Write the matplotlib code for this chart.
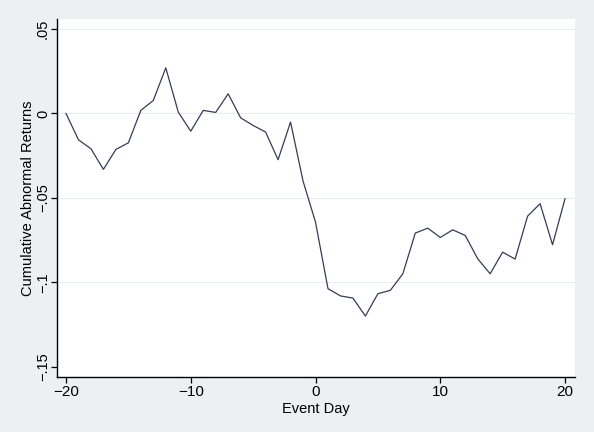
import numpy as np
import matplotlib.pyplot as plt

plt.rcParams['font.family'] = ['Liberation Sans', 'DejaVu Sans']

event_day = list(range(-20, 21))
car = [0.0, -0.0156, -0.0209, -0.0331, -0.0213, -0.0174, 0.0018, 0.0077,
       0.0270, 0.0008, -0.0105, 0.0018, 0.0006, 0.0116, -0.0026, -0.0071,
       -0.0110, -0.0274, -0.0051, -0.0400, -0.0643, -0.1037, -0.1080,
       -0.1093, -0.1199, -0.1067, -0.1047, -0.0949, -0.0708, -0.0679,
       -0.0734, -0.0689, -0.0722, -0.0860, -0.0949, -0.0821, -0.0862,
       -0.0608, -0.0534, -0.0777, -0.0505]

y_ticks = [0.05, 0.0, -0.05, -0.1, -0.15]
y_labels = ['.05', '0', '\u2212.05', '\u2212.1', '\u2212.15']
x_ticks = [-20, -10, 0, 10, 20]
x_labels = ['\u221220', '\u221210', '0', '10', '20']

fig = plt.figure(figsize=(5.94, 4.32), dpi=100, facecolor='#eeeff0')
ax = fig.add_axes([57 / 594, 55 / 432, 518 / 594, 358 / 432])
ax.set_facecolor('white')

for yv in y_ticks[:-1]:
    ax.axhline(yv, color='#ebedee', lw=0.8, zorder=1)

ax.plot(event_day, car, color='#333d55', lw=0.9, zorder=3)

ax.set_xlim(-20.72, 20.8)
ax.set_ylim(-0.156, 0.0559)
ax.set_xticks(x_ticks)
ax.set_xticklabels(x_labels, fontsize=11)
ax.set_yticks(y_ticks)
ax.set_yticklabels(y_labels, fontsize=10.5, rotation=90, va='center')

for s in ['top', 'right']:
    ax.spines[s].set_visible(False)
for s in ['left', 'bottom']:
    ax.spines[s].set_linewidth(1.0)
    ax.spines[s].set_color('black')
ax.tick_params(length=4, width=0.9, colors='black')
ax.tick_params(axis='y', pad=1)
ax.tick_params(axis='x', pad=2)

ax.set_xlabel('Event Day', fontsize=10.5, labelpad=2)
ax.set_ylabel('Cumulative Abnormal Returns', fontsize=10.5, labelpad=1)

fig.savefig('out.png', dpi=100, facecolor=fig.get_facecolor())
